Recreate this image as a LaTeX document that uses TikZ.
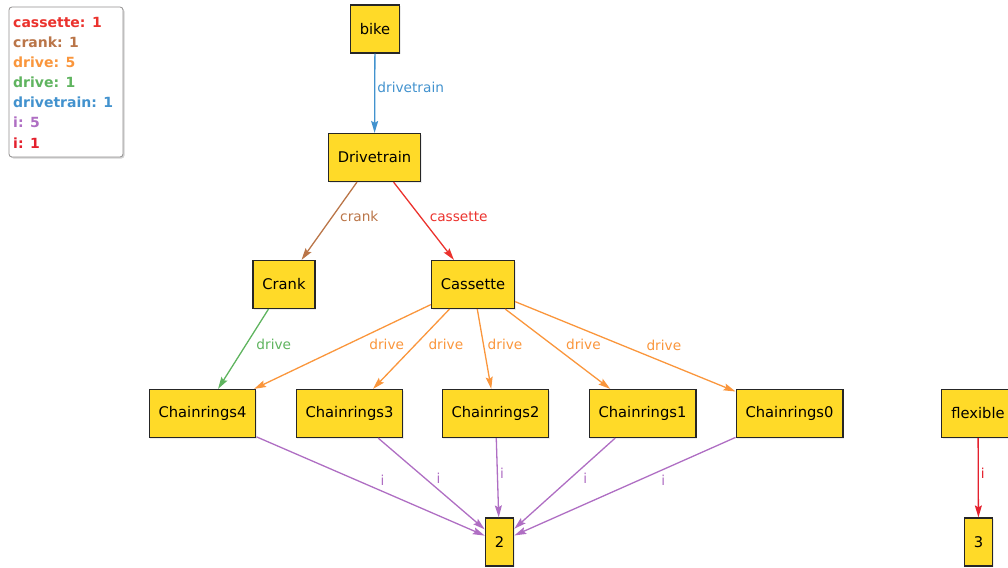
\documentclass[tikz,border=0pt]{standalone}
\usepackage[usenames,dvipsnames]{xcolor}
\usepackage{fontspec}
\setmainfont{DejaVu Sans}
\usetikzlibrary{shapes,shadows,calc,arrows.meta}

\definecolor{BoxGold}{RGB}{255,218,40}
\definecolor{TrainBlue}{RGB}{66,146,206}
\definecolor{CrankBrown}{RGB}{186,117,72}
\definecolor{CassetteRed}{RGB}{235,50,45}
\definecolor{DriveGreen}{RGB}{95,180,95}
\definecolor{DriveOrange}{RGB}{250,150,60}
\definecolor{LinkPurple}{RGB}{175,110,195}
\definecolor{LinkRed}{RGB}{228,32,45}

\begin{document}
\begin{tikzpicture} [x=1pt, y=-1pt,
				block/.style={
				% The shape:
				rectangle,
				% The size:
      				minimum height=48pt, inner xsep=9.5pt,
				% The border:
      				line width=1.2pt,
     				draw=black!85,
      				% The filling:
				fill=BoxGold,
				drop shadow={opacity=0.15, shadow xshift=1.3pt, shadow yshift=-1.3pt},
				% Font
				font=\fontsize{14.7}{17}\selectfont
    				},
				legend/.style={
				% The shape:
				rectangle, rounded corners=3pt,
				% The size:
      				minimum width=114pt, minimum height=150pt,
				% The border:
      				line width=0.8pt, draw=Gray,
      				% The filling:
				fill=white,
				drop shadow={opacity=0.35, shadow xshift=1.5pt, shadow yshift=-1.5pt}
    				},
				link/.style={
				line width=1.3pt,
				-{Stealth[length=12pt,width=7pt,inset=2pt]}
    				},
				lbl/.style={
				anchor=west, inner sep=2pt, pos=0.44,
				font=\fontsize{13.7}{16}\selectfont
    				},
				key/.style={
				anchor=base west, inner sep=0pt,
				font=\bfseries\fontsize{14}{16}\selectfont
    				},
				]
    \useasboundingbox (0,0) rectangle (1008,567);
    \clip (0,0) rectangle (1008,567);

    % legend
    \node [legend] (legend) at (66,82) {};
    \node [key, CassetteRed] (keycassette) at (13,28) {cassette: 1};
    \node [key, CrankBrown] (keycrank) at (13,48) {crank: 1};
    \node [key, DriveOrange] (keydriveA) at (13,68) {drive: 5};
    \node [key, DriveGreen] (keydriveB) at (13,88) {drive: 1};
    \node [key, TrainBlue] (keytrain) at (13,108) {drivetrain: 1};
    \node [key, LinkPurple] (keyiA) at (13,128) {i: 5};
    \node [key, LinkRed] (keyiB) at (13,148) {i: 1};

    % nodes
    \node [block] (bike) at (375,29) {bike};
    \node [block] (drivetrain) at (374.5,157.5) {Drivetrain};
    \node [block] (crank) at (284,284.5) {Crank};
    \node [block] (cassette) at (473,284.5) {Cassette};
    \node [block] (ring4) at (202.5,413.5) {Chainrings4};
    \node [block] (ring3) at (349.5,413.5) {Chainrings3};
    \node [block] (ring2) at (495.5,413.5) {Chainrings2};
    \node [block] (ring1) at (642.5,413.5) {Chainrings1};
    \node [block] (ring0) at (789.5,413.5) {Chainrings0};
    \node [block] (flexible) at (978,413.5) {flexible};
    \node [block] (two) at (499.5,542) {2};
    \node [block] (three) at (978.5,542) {3};

    % edges
    \draw [link, TrainBlue] (bike) -- node [lbl, pos=0.42] {drivetrain} (drivetrain);
    \draw [link, CrankBrown] (drivetrain) -- node [lbl, xshift=5pt] {crank} (crank);
    \draw [link, CassetteRed] (drivetrain) -- node [lbl, xshift=7pt] {cassette} (cassette);
    \draw [link, DriveGreen] (crank) -- node [lbl, xshift=7.5pt] {drive} (ring4);
    \draw [link, DriveOrange] (cassette) -- node [lbl, pos=0.47, xshift=19pt] {drive} (ring4);
    \draw [link, DriveOrange] (cassette) -- node [lbl, xshift=10pt] {drive} (ring3);
    \draw [link, DriveOrange] (cassette) -- node [lbl, xshift=1.6pt] {drive} (ring2);
    \draw [link, DriveOrange] (cassette) -- node [lbl, xshift=12pt] {drive} (ring1);
    \draw [link, DriveOrange] (cassette) -- node [lbl, pos=0.486, xshift=21.6pt] {drive} (ring0);
    \draw [link, LinkPurple] (ring4) -- node [lbl, xshift=21pt] {i} (two);
    \draw [link, LinkPurple] (ring3) -- node [lbl, xshift=9pt] {i} (two);
    \draw [link, LinkPurple] (ring2) -- node [lbl] {i} (two);
    \draw [link, LinkPurple] (ring1) -- node [lbl, xshift=10pt] {i} (two);
    \draw [link, LinkPurple] (ring0) -- node [lbl, xshift=20.6pt] {i} (two);
    \draw [link, LinkRed] (flexible) -- node [lbl] {i} (three);
\end{tikzpicture}
\end{document}
